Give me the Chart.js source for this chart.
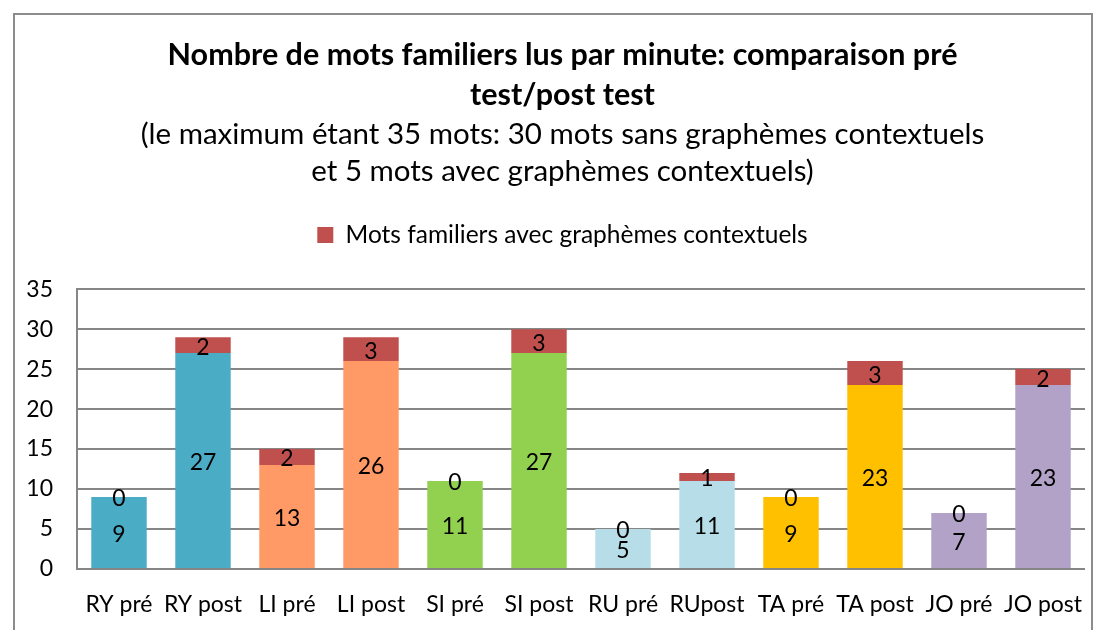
<!DOCTYPE html>
<html lang="fr">
<head>
    <meta charset="UTF-8">
    <title>Nombre de mots familiers lus par minute</title>
    <script src="https://cdn.jsdelivr.net/npm/chart.js"></script>
    <style>
        html, body {
            margin: 0;
            padding: 0;
            background: #ffffff;
        }
        .frame {
            position: absolute;
            left: 13px;
            top: 13px;
            width: 1076px;
            height: 640px;
            border: 2px solid #8c8c8c;
        }
        .chart-container {
            position: absolute;
            left: 0;
            top: 0;
            width: 1100px;
            height: 630px;
        }
    </style>
</head>
<body>
<div class="frame"></div>
<div class="chart-container">
    <canvas id="motsChart"></canvas>
</div>
<script>
    // categories and values
    const categories = ['RY pré', 'RY post', 'LI pré', 'LI post', 'SI pré', 'SI post',
        'RU pré', 'RUpost', 'TA pré', 'TA post', 'JO pré', 'JO post'];
    const sansGraphemes = [9, 27, 13, 26, 11, 27, 5, 11, 9, 23, 7, 23];
    const avecGraphemes = [0, 2, 2, 3, 0, 3, 0, 1, 0, 3, 0, 2];
    const baseColors = ['#4BACC6', '#4BACC6', '#FF9966', '#FF9966', '#92D050', '#92D050',
        '#B7DEE8', '#B7DEE8', '#FFC000', '#FFC000', '#B2A2C7', '#B2A2C7'];
    const yTicks = [0, 5, 10, 15, 20, 25, 30, 35];

    const FONT = "Lato, 'Liberation Sans', sans-serif";

    // writes each value in the middle of its bar segment
    const valueLabels = {
        id: 'valueLabels',
        afterDatasetsDraw(chart) {
            const ctx = chart.ctx;
            ctx.save();
            ctx.font = '23px ' + FONT;
            ctx.fillStyle = '#000000';
            ctx.textAlign = 'center';
            ctx.textBaseline = 'middle';
            chart.data.datasets.forEach((ds, i) => {
                chart.getDatasetMeta(i).data.forEach((bar, j) => {
                    const p = bar.getProps(['x', 'y', 'base'], true);
                    ctx.fillText(ds.data[j], p.x, (p.y + p.base) / 2 + 2);
                });
            });
            ctx.restore();
        }
    };

    // extra room under the legend, and titles/legend centred a bit to the right
    const headerLayout = {
        id: 'headerLayout',
        beforeInit(chart) {
            const fit = chart.legend.fit;
            chart.legend.fit = function () {
                fit.bind(chart.legend)();
                this.height += 32;
            };
        },
        afterLayout(chart) {
            chart.boxes.forEach(b => {
                if (b.position === 'top') b.left = 40;
            });
        }
    };

    new Chart(document.getElementById('motsChart'), {
        type: 'bar',
        data: {
            labels: categories,
            datasets: [{
                label: 'Mots familiers sans graphèmes contextuels',
                data: sansGraphemes,
                backgroundColor: baseColors,
                barPercentage: 0.66,
                categoryPercentage: 1
            }, {
                label: 'Mots familiers avec graphèmes contextuels',
                data: avecGraphemes,
                backgroundColor: '#C0504D',
                barPercentage: 0.66,
                categoryPercentage: 1
            }]
        },
        options: {
            responsive: true,
            maintainAspectRatio: false,
            animation: false,
            layout: {
                padding: { left: 0, right: 15, top: 0, bottom: 0 }
            },
            plugins: {
                title: {
                    display: true,
                    text: ['Nombre de mots familiers lus par minute: comparaison pré', 'test/post test'],
                    color: '#000000',
                    font: { family: FONT, size: 30.5, weight: 'bold', lineHeight: 1.31 },
                    padding: { top: 35, bottom: 0 }
                },
                subtitle: {
                    display: true,
                    text: ['(le maximum étant 35 mots: 30 mots sans graphèmes contextuels', 'et 5 mots avec graphèmes contextuels)'],
                    color: '#000000',
                    font: { family: FONT, size: 29.5, lineHeight: 1.25 },
                    padding: { top: 1, bottom: 23 }
                },
                legend: {
                    display: true,
                    labels: {
                        color: '#000000',
                        font: { family: FONT, size: 24.5 },
                        boxWidth: 16,
                        boxHeight: 16,
                        padding: 10,
                        filter: item => item.datasetIndex === 1
                    }
                },
                tooltip: { enabled: false }
            },
            scales: {
                x: {
                    stacked: true,
                    grid: { display: false },
                    border: { display: false },
                    afterFit: axis => {
                        axis.height = 61;
                    },
                    ticks: {
                        color: '#000000',
                        font: { family: FONT, size: 23 },
                        padding: 14,
                        maxRotation: 0,
                        autoSkip: false
                    }
                },
                y: {
                    stacked: true,
                    min: 0,
                    max: 35,
                    afterBuildTicks: axis => {
                        axis.ticks = yTicks.map(v => ({ value: v }));
                    },
                    afterFit: axis => {
                        axis.width = 77;
                    },
                    grid: {
                        color: '#868686',
                        lineWidth: 2,
                        drawTicks: false
                    },
                    border: { color: '#868686', width: 2 },
                    ticks: {
                        color: '#000000',
                        font: { family: FONT, size: 23 },
                        padding: 24
                    }
                }
            }
        },
        plugins: [valueLabels, headerLayout]
    });
</script>
</body>
</html>
